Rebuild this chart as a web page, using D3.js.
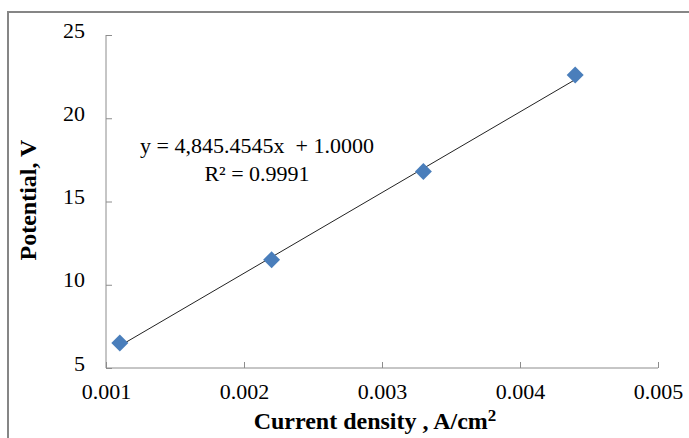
<!DOCTYPE html>
<html>
<head>
<meta charset="utf-8">
<script src="https://cdn.jsdelivr.net/npm/d3@7"></script>
<style>
  body { margin: 0; background: #fff; }
  svg { display: block; font-family: "Liberation Serif", "Times New Roman", serif; }
</style>
</head>
<body>
<div id="chart"></div>
<script>
const currentDensity = [0.0011, 0.0022, 0.0033, 0.0044];
const potential = [6.5, 11.5, 16.8, 22.6];
const xTicks = [0.001, 0.002, 0.003, 0.004, 0.005];
const yTicks = [5, 10, 15, 20, 25];
const trendSlope = 4845.4545;
const trendIntercept = 1.0;
const equationLines = ['y = 4,845.4545x  + 1.0000', 'R\u00b2 = 0.9991'];

const W = 689, H = 438;
const svg = d3.select('#chart').append('svg').attr('width', W).attr('height', H);

// outer chart border (right/bottom fall outside the window)
svg.append('rect')
  .attr('x', 8).attr('y', 12).attr('width', 700).attr('height', 450)
  .attr('fill', 'none').attr('stroke', '#868686').attr('stroke-width', 2);

const x = d3.scaleLinear().domain([0.001, 0.005]).range([106, 658]);
const y = d3.scaleLinear().domain([5, 25]).range([368, 35]);
const axisColor = '#8c8c8c';

// y axis
const gy = svg.append('g').attr('transform', `translate(${x.range()[0]},0)`)
  .call(d3.axisLeft(y).tickValues(yTicks).tickSize(-6).tickPadding(21).tickFormat(d3.format('d')));
gy.select('.domain').attr('stroke', axisColor);
gy.selectAll('.tick line').attr('stroke', axisColor);
gy.selectAll('.tick text').attr('font-size', 22).attr('fill', '#000')
  .attr('font-family', '"Liberation Serif", serif').attr('dy', '0.1em');

// x axis
const gx = svg.append('g').attr('transform', `translate(0,${y.range()[0]})`)
  .call(d3.axisBottom(x).tickValues(xTicks).tickSize(-6).tickPadding(15).tickFormat(d3.format('.3f')));
gx.select('.domain').attr('stroke', axisColor);
gx.selectAll('.tick line').attr('stroke', axisColor);
gx.selectAll('.tick text').attr('font-size', 22).attr('fill', '#000')
  .attr('font-family', '"Liberation Serif", serif');
gx.selectAll('path.domain').attr('d', `M${x.range()[0]},0H${x.range()[1]}`);
gy.selectAll('path.domain').attr('d', `M0,${y.range()[0]}V${y.range()[1]}`);

// trendline
const x0 = d3.min(currentDensity), x1 = d3.max(currentDensity);
svg.append('line')
  .attr('x1', x(x0)).attr('y1', y(trendSlope * x0 + trendIntercept))
  .attr('x2', x(x1)).attr('y2', y(trendSlope * x1 + trendIntercept))
  .attr('stroke', '#222').attr('stroke-width', 1);

// markers
svg.selectAll('rect.pt')
  .data(currentDensity.map((d, i) => [d, potential[i]]))
  .join('rect')
  .attr('class', 'pt')
  .attr('x', -6).attr('y', -6).attr('width', 12).attr('height', 12)
  .attr('transform', d => `translate(${x(d[0])},${y(d[1])}) rotate(45)`)
  .attr('fill', '#4a7ebb');

// equation
svg.append('text')
  .attr('text-anchor', 'middle').attr('font-size', 22)
  .selectAll('tspan').data(equationLines).join('tspan')
  .attr('x', 257).attr('y', (d, i) => 153 + i * 28)
  .attr('xml:space', 'preserve').style('white-space', 'pre')
  .text(d => d);

// axis titles
svg.append('text')
  .attr('x', 375).attr('y', 429).attr('text-anchor', 'middle')
  .attr('font-size', 24).attr('font-weight', 'bold')
  .text('Current density , A/cm')
  .append('tspan').attr('font-size', 17).attr('dy', -8).text('2');

svg.append('text')
  .attr('transform', 'translate(36,200) rotate(-90)')
  .attr('text-anchor', 'middle').attr('font-size', 24).attr('font-weight', 'bold')
  .text('Potential, V');
</script>
</body>
</html>
